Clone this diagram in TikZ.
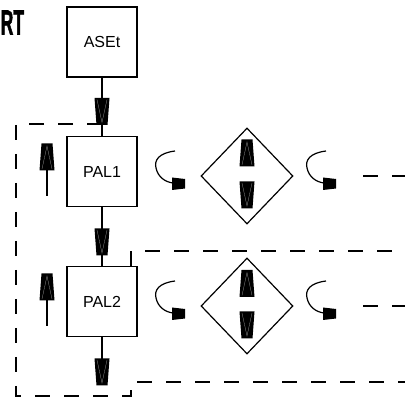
\documentclass[tikz,border=0pt]{standalone}
\usepackage{fontspec}
\setmainfont{Liberation Sans}
\newfontfamily\rtfont{Liberation Sans}[UprightFont=* Bold, FakeBold=2]
\usepackage{graphicx}
\usetikzlibrary{shapes.geometric}

\tikzset{
  box/.style={draw, line width=1.2pt, minimum width=70pt, minimum height=70pt,
    inner sep=0pt, font=\fontsize{16}{18}\selectfont},
  dia/.style={draw, shape=diamond, line width=1.2pt, minimum width=92pt,
    minimum height=96pt, inner sep=0pt},
  ln/.style={line width=1.2pt},
  dsh/.style={line width=1.2pt, dash pattern=on 15pt off 14pt},
  plug/.pic={
    \fill[black] (-7.5,-13.5) -- (7.5,-13.5) -- (5.5,13.5) -- (-5.5,13.5) -- cycle;
    \draw[gray!70, line width=0.25pt] (-5,-12) -- (0,11) -- (5,-12);
  },
  hook/.pic={
    \draw[line width=1.2pt] (0,0) .. controls (-16,2) and (-21,9) .. (-19,17)
      .. controls (-17,26) and (-10,31) .. (-2,32);
    \fill[black] (-3,26.5) -- (10,28) -- (10,37.5) -- (-3,39) -- cycle;
  }
}

\begin{document}
\begin{tikzpicture}[x=1pt, y=-1pt]

\useasboundingbox (0,0) rectangle (405,398);

\node[anchor=west, inner sep=0pt, font=\fontsize{35}{36}\selectfont\rtfont]
  (start) at (0.5,22.5) {\scalebox{0.5}[1]{RT}};

\node[box] (aset) at (102,42) {ASEt};
\node[box] (pal1) at (102,171.5) {PAL1};
\node[box] (pal2) at (102,301.5) {PAL2};

\node[dia] (dia1) at (247,176) {};
\node[dia] (dia2) at (247,306) {};

% feeds between the boxes
\draw[ln] (aset) -- (pal1);
\pic at (102,111.5) {plug};
\draw[ln] (pal1) -- (pal2);
\pic at (102,242) {plug};
\coordinate (out) at (102,384);
\draw[ln] (pal2) -- (out);
\pic at (102,372) {plug};

% side stems
\coordinate (s1a) at (47,196);
\coordinate (s1b) at (47,147);
\draw[ln] (s1a) -- (s1b);
\pic[rotate=180] at (47,157) {plug};
\coordinate (s2a) at (47,326);
\coordinate (s2b) at (47,277);
\draw[ln] (s2a) -- (s2b);
\pic[rotate=180] at (47,287) {plug};

% inside the diamonds
\pic[rotate=180] at (247,153) {plug};
\pic at (247,195) {plug};
\pic[rotate=180] at (247,283.5) {plug};
\pic at (247,325) {plug};

% return hooks
\pic at (175,151) {hook};
\pic at (326,151) {hook};
\pic at (175,281) {hook};
\pic at (326,281) {hook};

% dashed frames
\draw[dsh] (102,124) -- (16,124) -- (16,396) -- (131,396) -- (131,382) -- (405,382);
\draw[dsh] (131,266) -- (131,251) -- (405,251);
\draw[dsh] (363,176) -- (405,176);
\draw[dsh] (363,306) -- (405,306);

\end{tikzpicture}
\end{document}
